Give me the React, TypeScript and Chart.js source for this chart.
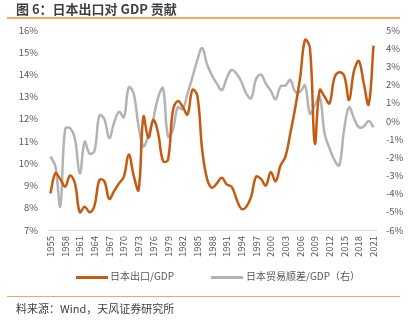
import React, { useEffect, useRef } from "react";
import { Chart, registerables } from "chart.js";

Chart.register(...registerables);

const years = [
  "1955", "1956", "1957", "1958", "1959", "1960", "1961", "1962", "1963", "1964",
  "1965", "1966", "1967", "1968", "1969", "1970", "1971", "1972", "1973", "1974",
  "1975", "1976", "1977", "1978", "1979", "1980", "1981", "1982", "1983", "1984",
  "1985", "1986", "1987", "1988", "1989", "1990", "1991", "1992", "1993", "1994",
  "1995", "1996", "1997", "1998", "1999", "2000", "2001", "2002", "2003", "2004",
  "2005", "2006", "2007", "2008", "2009", "2010", "2011", "2012", "2013", "2014",
  "2015", "2016", "2017", "2018", "2019", "2020", "2021",
];

// 日本出口/GDP (%), left axis
const exportRatio = [
  8.65, 9.55, 9.3, 8.95, 9.45, 9.1, 7.8, 8.05, 7.8, 8.1,
  9.25, 9.2, 8.4, 8.75, 9.1, 9.4, 10.4, 9.45, 8.8, 12.1,
  11.15, 11.95, 11.35, 10.1, 10.15, 12.35, 12.8, 12.55, 12.2, 13.3,
  13.05, 10.6, 9.3, 8.9, 9.1, 9.35, 9.05, 8.95, 8.4, 7.95,
  8.05, 8.5, 9.4, 9.3, 9.0, 9.6, 9.2, 9.9, 10.3, 11.35,
  12.5, 13.85, 15.55, 15.2, 10.9, 13.3, 13.0, 12.7, 13.85, 14.1,
  13.95, 12.85, 14.15, 14.6, 13.6, 12.65, 15.3,
];

// 日本贸易顺差/GDP (%), right axis
const tradeBalance = [
  -1.95, -2.5, -4.7, -0.45, -0.4, -1.0, -2.9, -1.15, -1.8, -1.65,
  0.3, 0.1, -0.95, -0.1, 0.5, 0.2, 1.85, 1.5, -0.3, -1.4,
  -0.8, 0.1, 1.3, 1.8, -0.85, -0.5, 0.75, 0.65, 1.5, 2.4,
  3.35, 4.0, 3.1, 2.5, 2.05, 1.7, 2.35, 2.8, 2.6, 2.15,
  1.5, 1.25, 2.3, 2.55, 2.05, 1.65, 1.2, 1.9, 1.95, 2.25,
  1.6, 1.6, 1.95, 0.4, 0.85, 1.35, -0.7, -1.5, -2.15, -2.45,
  -0.45, 0.75, 0.15, -0.35, -0.3, 0.0, -0.35,
];

const seriesNames = ["日本出口/GDP", "日本贸易顺差/GDP（右）"];
const titleText = "图 6：日本出口对 GDP 贡献";
const sourceText = "料来源：Wind，天风证券研究所";

const ORANGE = "#C55A11";
const GRAY = "#B3B3B3";
const RULE = "#F6A862";
const TEXT = "#595959";
const FONT = "'Noto Sans CJK SC', 'Noto Sans', sans-serif";

export default function App() {
  const ref = useRef<HTMLCanvasElement>(null);

  useEffect(() => {
    if (!ref.current) return;
    Chart.defaults.font.family = FONT;
    const chart = new Chart(ref.current, {
      type: "line",
      data: {
        labels: years,
        datasets: [
          {
            label: seriesNames[0],
            data: exportRatio,
            borderColor: ORANGE,
            backgroundColor: ORANGE,
            borderWidth: 2.5,
            pointRadius: 0,
            tension: 0.4,
            yAxisID: "y",
          },
          {
            label: seriesNames[1],
            data: tradeBalance,
            borderColor: GRAY,
            backgroundColor: GRAY,
            borderWidth: 2.5,
            pointRadius: 0,
            tension: 0.4,
            yAxisID: "y1",
          },
        ],
      },
      options: {
        responsive: false,
        animation: false,
        layout: { padding: { top: 30, bottom: 60, left: 0, right: 0 } },
        plugins: { legend: { display: false }, tooltip: { enabled: false } },
        scales: {
          x: {
            offset: true,
            grid: { display: false, drawTicks: false },
            border: { display: true, color: "#D9D9D9", width: 1 },
            ticks: {
              autoSkip: false,
              maxRotation: 90,
              minRotation: 90,
              padding: 6,
              color: TEXT,
              font: { size: 9.5 },
              callback: (_v: any, i: number) => (i % 3 === 0 ? years[i] : null),
            },
            afterFit: (s: any) => {
              s.height = 34;
            },
          },
          y: {
            position: "left",
            min: 7,
            max: 16,
            grid: { display: false, drawTicks: false },
            border: { display: false },
            ticks: {
              stepSize: 1,
              padding: 10,
              color: TEXT,
              font: { size: 9.5 },
              callback: (v: any) => v + "%",
            },
            afterFit: (s: any) => {
              s.width = 48;
            },
          },
          y1: {
            position: "right",
            min: -6,
            max: 5,
            grid: { display: false, drawTicks: false },
            border: { display: false },
            ticks: {
              stepSize: 1,
              padding: 10,
              color: TEXT,
              font: { size: 9.5 },
              callback: (v: any) => v + "%",
            },
            afterFit: (s: any) => {
              s.width = 35;
            },
          },
        },
      },
    });
    return () => chart.destroy();
  }, []);

  const abs = (o: React.CSSProperties): React.CSSProperties => ({ position: "absolute", ...o });

  return (
    <div style={{ position: "absolute", left: 0, top: 0, width: 411, height: 324, background: "#fff", overflow: "hidden", fontFamily: FONT }}>
      <canvas ref={ref} width={411} height={324} style={abs({ left: 0, top: 0, width: 411, height: 324 })} />
      <div style={abs({ left: 16, top: 0, fontSize: 13, fontWeight: 700, color: "#3F3F3F", whiteSpace: "nowrap", lineHeight: "17px" })}>{titleText}</div>
      <div style={abs({ left: 7, top: 17, width: 393, height: 1.5, background: RULE })} />
      <div style={abs({ left: 76, top: 275.5, width: 32, height: 3, background: ORANGE })} />
      <div style={abs({ left: 110, top: 269, fontSize: 10, color: TEXT, whiteSpace: "nowrap", lineHeight: "14px" })}>{seriesNames[0]}</div>
      <div style={abs({ left: 211, top: 275.5, width: 32, height: 3, background: GRAY })} />
      <div style={abs({ left: 246, top: 269, fontSize: 10, color: TEXT, whiteSpace: "nowrap", lineHeight: "14px" })}>{seriesNames[1]}</div>
      <div style={abs({ left: 7, top: 295.5, width: 393, height: 1.5, background: RULE })} />
      <div style={abs({ left: 16, top: 301, fontSize: 11, color: "#404040", whiteSpace: "nowrap", lineHeight: "15px" })}>{sourceText}</div>
    </div>
  );
}
